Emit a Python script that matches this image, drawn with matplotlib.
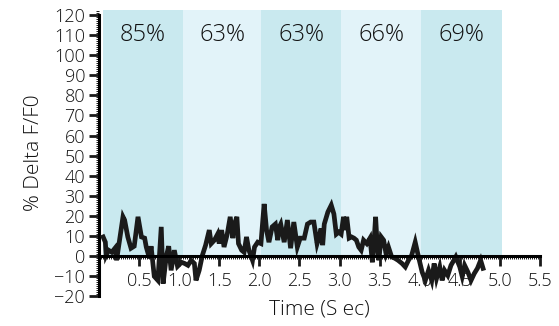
import matplotlib
matplotlib.use("Agg")
import matplotlib.pyplot as plt
from matplotlib.ticker import MultipleLocator

# ---- data ----
time = [0.052, 0.08, 0.09, 0.12, 0.16, 0.20, 0.22, 0.30, 0.32, 0.36, 0.40, 0.44,
        0.487, 0.53, 0.57, 0.59, 0.63, 0.65, 0.69, 0.735, 0.777, 0.80, 0.84, 0.87,
        0.90, 0.94, 0.98, 1.03, 1.07, 1.11, 1.15, 1.19, 1.21, 1.25, 1.29, 1.33,
        1.376, 1.40, 1.44, 1.48, 1.50, 1.53, 1.56, 1.60, 1.637, 1.67, 1.69, 1.72,
        1.74, 1.78, 1.81, 1.84, 1.87, 1.915, 1.94, 1.98, 2.02, 2.06, 2.09, 2.12,
        2.16, 2.20, 2.23, 2.25, 2.267, 2.31, 2.35, 2.39, 2.43, 2.474, 2.51, 2.56,
        2.60, 2.64, 2.68, 2.72, 2.75, 2.77, 2.79, 2.81, 2.855, 2.897, 2.93, 2.96,
        2.99, 3.02, 3.05, 3.07, 3.09, 3.12, 3.15, 3.18, 3.21, 3.24, 3.27, 3.30,
        3.34, 3.38, 3.41, 3.43, 3.45, 3.47, 3.49, 3.52, 3.55, 3.58, 3.61, 3.65,
        3.69, 3.73, 3.78, 3.82, 3.86, 3.90, 3.944, 3.985, 4.03, 4.07, 4.11, 4.15,
        4.18, 4.21, 4.25, 4.28, 4.31, 4.35, 4.39, 4.45, 4.50, 4.53, 4.56, 4.60,
        4.64, 4.68, 4.72, 4.76, 4.79]
dff = [9.6, 7, 0.5, 3, 2, 4, -2, 19.6, 18, 9.6, 4, 5,
       19.6, 9.6, 9, 4.6, -1, 5, -10, -12, 14.6, -13.6, 0, 5,
       -7, 3, -5, -3, -3.6, -4.5, -2, -3.6, -12, -7, 0.5, 5.5,
       13, 6.3, 8, 11, 6.3, 13, 4.6, 11, 19.6, 9, 16, 19.6,
       6.3, 3, 2, 9.6, 3, -2, 4.6, 7, 6.3, 26, 13, 7,
       14.6, 16, 8, 14.6, 16, 7, 18, 4, 17, 4.6, 9, 9,
       16, 17, 17, 6.3, 10.4, 13.8, 5.5, 16, 22, 25.4, 21, 11,
       12, 11, 19.6, 13, 19.6, 9, 9.6, 9, 8, 4.6, 3, 8,
       6.3, 9, -3, 7, 19.6, 5.5, -2, 9.6, 8, 1.3, 4.6, -0.3,
       -1, -2, -3.6, -5.3, -2, 0.5, 7, -0.3, -7.8, -12, -7, -12,
       -3.6, -11, -5.3, -12, -7, -9.5, -4.5, -0.3, -5.3, -10, -4.5, -7.8,
       -12, -8.6, -6, -2, -6]

band_edges = [0.05, 1.05, 2.02, 3.02, 4.02, 5.02]
band_labels = ["85%", "63%", "63%", "66%", "69%"]
band_colors = ["#c9e9ef", "#e2f3f9", "#c9e9ef", "#e2f3f9", "#c9e9ef"]

plt.rcParams.update({"font.family": ["Open Sans", "DejaVu Sans"],
                     "font.weight": "light", "axes.labelweight": "light"})

fig = plt.figure(figsize=(5.59, 3.26), dpi=100)
ax = fig.add_axes([0.177, 0.0905, 0.789, 0.8795])

for i, lab in enumerate(band_labels):
    x0, x1 = band_edges[i], band_edges[i + 1]
    ax.fill_between([x0, x1], 0, 122.5, color=band_colors[i], lw=0, zorder=0)
    ax.text((x0 + x1) / 2, 110, lab, ha="center", va="center",
            fontsize=17, color="#111111", zorder=2)

ax.plot(time, dff, color="#1a1a1a", lw=3.4, solid_joinstyle="miter", zorder=3)

ax.set_xlim(0, 5.5)
ax.set_ylim(-20, 122.5)
ax.spines["left"].set_bounds(-20, 120)
ax.spines["bottom"].set_position(("data", 0))
ax.spines["bottom"].set_bounds(0, 5.5)
for sp in ["top", "right"]:
    ax.spines[sp].set_visible(False)
ax.spines["left"].set_linewidth(2.2)
ax.spines["bottom"].set_linewidth(2.2)
ax.spines["bottom"].set_zorder(4)

ax.set_yticks(range(-20, 121, 10))
ax.set_xticks([0.5, 1.0, 1.5, 2.0, 2.5, 3.0, 3.5, 4.0, 4.5, 5.0, 5.5])
ax.set_xticklabels(["0.5", "1.0", "1.5", "2.0", "2.5", "3.0", "3.5", "4.0",
                    "4.5", "5.0", "5.5"])
ax.xaxis.set_minor_locator(MultipleLocator(0.025))
ax.yaxis.set_minor_locator(MultipleLocator(1))
ax.tick_params(axis="both", which="major", direction="out", length=7, width=2,
               labelsize=13, colors="#1a1a1a", labelcolor="#111111")
ax.tick_params(axis="x", which="major", pad=4)
ax.tick_params(axis="y", which="major", pad=3)
ax.tick_params(axis="both", which="minor", direction="out", length=2, width=0.7,
               colors="#1a1a1a")

ax.set_ylabel("% Delta F/F0", fontsize=15, labelpad=7, fontweight="light",
              color="#111111")
fig.text(0.571, 0.052, "Time (S ec)", ha="center", va="center", fontsize=15,
         fontweight="light", color="#111111")

fig.savefig("out.png", dpi=100, facecolor="white")
